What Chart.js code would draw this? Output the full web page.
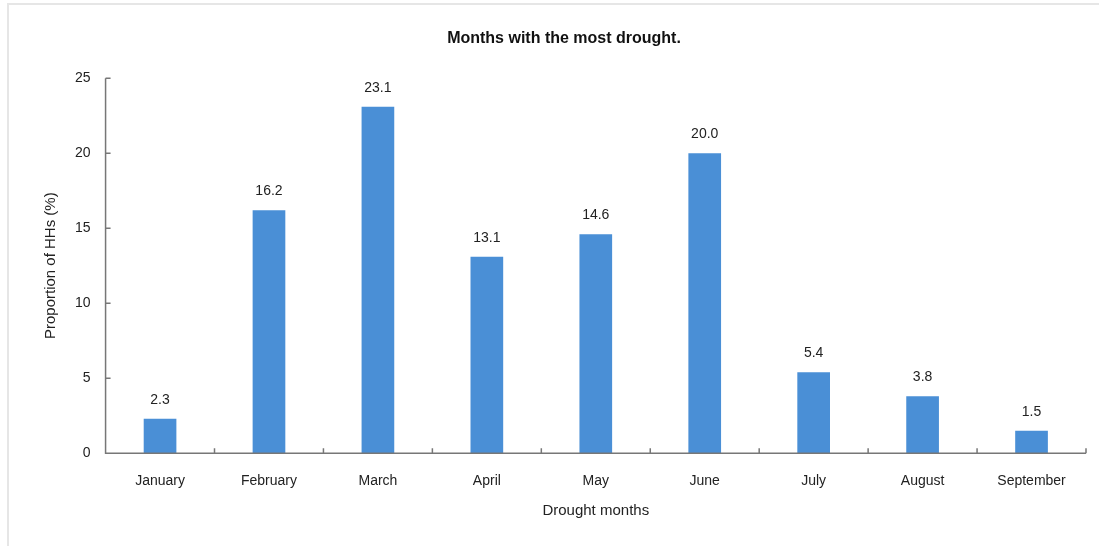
<!DOCTYPE html>
<html>
<head>
<meta charset="utf-8">
<script src="https://cdn.jsdelivr.net/npm/chart.js@4"></script>
<style>
  html, body { margin: 0; padding: 0; background: #fff; }
  #wrap { position: relative; width: 1100px; height: 546px; }
  #frame { position: absolute; left: 7px; top: 3px; width: 1092px; height: 545px; border-left: 2px solid #e6e6e6; border-top: 2px solid #e6e6e6; box-sizing: border-box; }
</style>
</head>
<body>
<div id="wrap">
  <div id="frame"></div>
  <canvas id="chart-canvas" width="1100" height="546"></canvas>
</div>
<script>
const months = ['January', 'February', 'March', 'April', 'May', 'June', 'July', 'August', 'September'];
const proportions = [2.3, 16.2, 23.1, 13.1, 14.6, 20.0, 5.4, 3.8, 1.5];
const yTicks = [0, 5, 10, 15, 20, 25];

const font = 'Liberation Sans, Arial, sans-serif';

// value labels above bars
const barLabels = {
    id: 'barLabels',
    afterDatasetsDraw(chart) {
        const ctx = chart.ctx;
        const meta = chart.getDatasetMeta(0);
        ctx.save();
        ctx.fillStyle = '#222';
        ctx.font = '14px ' + font;
        ctx.textAlign = 'center';
        ctx.textBaseline = 'bottom';
        meta.data.forEach((bar, i) => {
            ctx.fillText(proportions[i].toFixed(1), bar.x, bar.y - 12);
        });
        ctx.restore();
    }
};

// axes with inward tick marks
const innerAxes = {
    id: 'innerAxes',
    afterDatasetsDraw(chart) {
        const ctx = chart.ctx;
        const x = chart.scales.x;
        const y = chart.scales.y;
        ctx.save();
        ctx.strokeStyle = '#777';
        ctx.lineWidth = 1.5;
        ctx.beginPath();
        ctx.moveTo(x.left, y.top);
        ctx.lineTo(x.left, y.bottom);
        ctx.lineTo(x.right, y.bottom);
        yTicks.forEach(v => {
            const py = y.getPixelForValue(v);
            ctx.moveTo(x.left, py);
            ctx.lineTo(x.left + 5, py);
        });
        for (let i = 0; i <= months.length; i++) {
            const px = x.getPixelForValue(i - 0.5);
            ctx.moveTo(px, y.bottom);
            ctx.lineTo(px, y.bottom - 5);
        }
        ctx.stroke();
        ctx.restore();
    }
};

const data = {
    labels: months,
    datasets: [{
        label: 'Proportion of HHs (%)',
        data: proportions,
        backgroundColor: '#4a8fd6',
        borderWidth: 0,
        barPercentage: 0.6,
        categoryPercentage: 0.5
    }]
};

const config = {
    type: 'bar',
    data: data,
    options: {
        responsive: false,
        animation: false,
        layout: {
            padding: { left: 42, right: 14, top: 25, bottom: 26 }
        },
        scales: {
            x: {
                grid: { display: false, drawTicks: false },
                border: { display: false },
                ticks: { color: '#222', font: { family: font, size: 14 }, padding: 20 },
                title: {
                    display: true,
                    text: 'Drought months',
                    color: '#222',
                    font: { family: font, size: 15 },
                    padding: { top: -8, bottom: 0 }
                }
            },
            y: {
                min: 0,
                max: 25,
                afterBuildTicks: axis => { axis.ticks = yTicks.map(v => ({ value: v })); },
                grid: { display: false, drawTicks: false },
                border: { display: false },
                ticks: { color: '#222', font: { family: font, size: 14 }, padding: 15 },
                title: {
                    display: true,
                    text: 'Proportion of HHs (%)',
                    color: '#222',
                    font: { family: font, size: 15 },
                    padding: { top: 0, bottom: 0 }
                }
            }
        },
        plugins: {
            legend: { display: false },
            tooltip: { enabled: false },
            title: {
                display: true,
                text: 'Months with the most drought.',
                color: '#111',
                font: { family: font, size: 16, weight: 'bold' },
                padding: { top: 4, bottom: 30 }
            }
        }
    },
    plugins: [barLabels, innerAxes]
};

const ctx = document.getElementById('chart-canvas').getContext('2d');
const myBarChart = new Chart(ctx, config);
</script>
</body>
</html>
